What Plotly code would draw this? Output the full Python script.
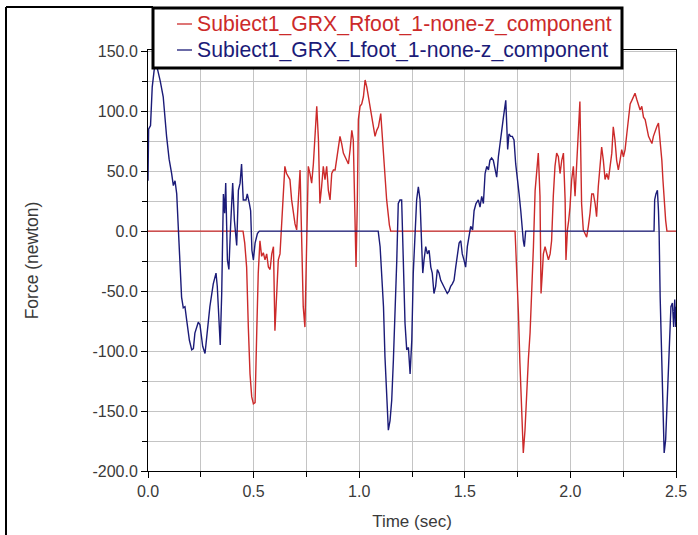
import plotly.graph_objects as go

# ---------------- data ----------------
r_time = [0.000, 0.450, 0.458, 0.467, 0.475, 0.483, 0.491, 0.499, 0.507, 0.512, 0.515, 0.522,
          0.530, 0.538, 0.546, 0.554, 0.562, 0.570, 0.578, 0.586, 0.594, 0.601, 0.609, 0.617,
          0.625, 0.633, 0.641, 0.648, 0.656, 0.664, 0.672, 0.680, 0.688, 0.696, 0.704, 0.712,
          0.720, 0.727, 0.735, 0.743, 0.751, 0.759, 0.767, 0.775, 0.783, 0.791, 0.799, 0.807,
          0.814, 0.822, 0.830, 0.838, 0.846, 0.854, 0.862, 0.870, 0.878, 0.886, 0.893, 0.901,
          0.909, 0.917, 0.925, 0.933, 0.941, 0.949, 0.957, 0.965, 0.972, 0.980, 0.985, 0.991,
          0.996, 1.004, 1.012, 1.020, 1.028, 1.036, 1.043, 1.051, 1.059, 1.067, 1.075, 1.083,
          1.091, 1.102, 1.108, 1.114, 1.122, 1.130, 1.143, 1.149, 1.738, 1.746, 1.754, 1.761,
          1.769, 1.777, 1.785, 1.793, 1.801, 1.809, 1.817, 1.825, 1.833, 1.840, 1.848, 1.856,
          1.861, 1.867, 1.872, 1.880, 1.888, 1.896, 1.904, 1.911, 1.919, 1.927, 1.935, 1.943,
          1.951, 1.959, 1.967, 1.975, 1.979, 1.986, 1.992, 1.998, 2.006, 2.014, 2.022, 2.030,
          2.037, 2.045, 2.053, 2.061, 2.069, 2.077, 2.085, 2.093, 2.101, 2.109, 2.117, 2.124,
          2.132, 2.140, 2.148, 2.156, 2.164, 2.172, 2.180, 2.188, 2.196, 2.203, 2.211, 2.219,
          2.227, 2.235, 2.243, 2.251, 2.259, 2.267, 2.275, 2.283, 2.291, 2.299, 2.306, 2.314,
          2.322, 2.330, 2.338, 2.346, 2.354, 2.362, 2.370, 2.378, 2.386, 2.393, 2.401, 2.409,
          2.417, 2.425, 2.433, 2.438, 2.444, 2.451, 2.457, 2.500]
r_force = [0, 0, -10, -30, -80, -119, -138, -144, -143, -115, -83, -35,
           -8, -21, -18, -24, -19, -30, -32, -19, -13, -83, -52, -24,
           -19, 4, 34, 54, 48, 46, 43, 26, 15, 6, 1, 26,
           51, -2, -63, -80, -8, 54, 48, 40, 56, 81, 104, 76,
           23, 37, 54, 43, 54, 34, 26, 48, 51, 51, 59, 68,
           79, 73, 65, 62, 59, 56, 68, 84, 76, -8, -30, 23,
           93, 104, 106, 112, 126, 120, 112, 104, 95, 87, 79, 84,
           87, 98, 82, 65, 48, 26, 5, 0, 0, -30, -69, -110,
           -146, -185, -166, -132, -107, -85, -52, -13, 34, 48, 65, 29,
           -52, -35, -19, -13, -19, -24, -19, -8, 29, 54, 65, 62,
           48, 59, 65, 26, -24, 1, 9, 20, 43, 54, 29, 56,
           84, 108, 23, 1, -2, -5, 4, 15, 31, 31, 23, 12,
           37, 54, 70, 59, 43, 48, 43, 54, 65, 87, 76, 59,
           51, 59, 68, 62, 68, 81, 93, 106, 109, 112, 115, 110,
           106, 101, 104, 95, 93, 84, 79, 76, 73, 79, 84, 87,
           90, 76, 59, 43, 26, 9, 0, 0]

l_time = [0.000, 0.003, 0.012, 0.020, 0.033, 0.045, 0.058, 0.072, 0.088, 0.100, 0.112, 0.120,
          0.128, 0.136, 0.144, 0.151, 0.159, 0.167, 0.175, 0.183, 0.196, 0.207, 0.215, 0.222,
          0.230, 0.238, 0.246, 0.259, 0.270, 0.278, 0.293, 0.309, 0.322, 0.328, 0.336, 0.342,
          0.349, 0.357, 0.363, 0.368, 0.376, 0.383, 0.391, 0.401, 0.409, 0.420, 0.428, 0.436,
          0.443, 0.451, 0.464, 0.470, 0.480, 0.486, 0.492, 0.499, 0.507, 0.518, 0.527, 1.090,
          1.099, 1.107, 1.115, 1.122, 1.130, 1.138, 1.146, 1.154, 1.162, 1.170, 1.178, 1.185,
          1.193, 1.201, 1.209, 1.217, 1.225, 1.233, 1.241, 1.249, 1.256, 1.264, 1.272, 1.280,
          1.288, 1.296, 1.301, 1.307, 1.315, 1.323, 1.331, 1.339, 1.346, 1.354, 1.362, 1.370,
          1.378, 1.386, 1.394, 1.402, 1.410, 1.417, 1.425, 1.433, 1.441, 1.449, 1.457, 1.465,
          1.473, 1.481, 1.488, 1.496, 1.504, 1.512, 1.520, 1.528, 1.537, 1.544, 1.553, 1.564,
          1.572, 1.580, 1.588, 1.596, 1.604, 1.612, 1.619, 1.627, 1.635, 1.643, 1.651, 1.659,
          1.667, 1.675, 1.683, 1.688, 1.694, 1.699, 1.703, 1.709, 1.717, 1.725, 1.733, 1.741,
          1.749, 1.757, 1.765, 1.771, 1.777, 1.782, 1.788, 2.396, 2.399, 2.405, 2.412, 2.417,
          2.420, 2.425, 2.430, 2.434, 2.439, 2.444, 2.451, 2.457, 2.464, 2.470, 2.476, 2.483,
          2.489, 2.494, 2.499, 2.500]
l_force = [42, 85, 88, 120, 140, 135, 125, 112, 79, 60, 48, 38,
           42, 31, 1, -21, -55, -64, -63, -74, -91, -99, -98, -85,
           -80, -76, -78, -96, -102, -88, -63, -44, -35, -46, -71, -95,
           -52, 31, 15, 40, -24, -32, 4, 40, 9, -12, 34, 40,
           56, 26, 26, 31, 23, 17, -16, -24, -10, -2, 0, 0,
           -13, -35, -63, -105, -141, -166, -158, -141, -107, -69, -24, 23,
           26, 26, -21, -77, -99, -97, -119, -91, -35, 4, 26, 37,
           26, -13, -35, -24, -13, -19, -16, -30, -35, -52, -46, -32,
           -35, -41, -44, -46, -49, -52, -50, -46, -44, -41, -30, -19,
           -10, -8, -19, -24, -30, -13, -5, 4, 1, 17, 23, 26,
           20, 29, 23, 48, 54, 51, 59, 61, 59, 51, 45, 62,
           76, 84, 95, 104, 109, 87, 68, 81, 79, 79, 76, 56,
           45, 31, 17, 0, -8, -13, 0, 0, 26, 31, 34, 17,
           0, -55, -91, -132, -163, -185, -174, -146, -107, -83, -63, -60,
           -80, -57, -80, -63]

series_names = ["Subiect1_GRX_Rfoot_1-none-z_component",
                "Subiect1_GRX_Lfoot_1-none-z_component"]
series_colors = ["#cc2a2a", "#1b1b78"]

x_tickvals = [0.0, 0.5, 1.0, 1.5, 2.0, 2.5]
x_ticktext = ["0.0", "0.5", "1.0", "1.5", "2.0", "2.5"]
y_tickvals = [-200, -150, -100, -50, 0, 50, 100, 150]
y_ticktext = ["-200.0", "-150.0", "-100.0", "-50.0", "0.0", "50.0", "100.0", "150.0"]

# ---------------- geometry (pixels of the 698x535 canvas) ----------------
W, H = 698, 535
L, R, T, B = 148, 22, 50, 64
PW, PH = W - L - R, H - T - B


def px(x):
    return (x - L) / PW


def py(y):
    return (H - B - y) / PH


FONT = "Liberation Sans, Arial, sans-serif"
TXT = "#3a3a3a"
fig = go.Figure()
for t, f, name, col in [(r_time, r_force, series_names[0], series_colors[0]),
                        (l_time, l_force, series_names[1], series_colors[1])]:
    fig.add_trace(go.Scatter(x=t, y=f, mode="lines", line=dict(color=col, width=1.4),
                             name=name, showlegend=False))

axis_common = dict(
    showline=True, linecolor="black", linewidth=1, mirror=True,
    showgrid=True, gridcolor="#c4c4c4", gridwidth=1,
    ticks="outside", ticklen=6, tickcolor="black",
    tickfont=dict(family=FONT, size=16, color=TXT),
    zeroline=False,
)

# manual legend (box + coloured entries)
shapes = [
    dict(type="rect", xref="paper", yref="paper", x0=px(153), x1=px(622), y0=py(68), y1=py(8),
         line=dict(color="black", width=3), fillcolor="white", layer="above"),
    dict(type="line", xref="paper", yref="paper", x0=px(6), x1=px(6), y0=py(7), y1=py(540),
         line=dict(color="black", width=2)),
    dict(type="line", xref="paper", yref="paper", x0=px(6), x1=px(153), y0=py(7), y1=py(7),
         line=dict(color="black", width=2)),
]
annotations = []
for i, (name, col) in enumerate(zip(series_names, series_colors)):
    yc = 24 + 26 * i
    shapes.append(dict(type="line", xref="paper", yref="paper", x0=px(177), x1=px(192),
                       y0=py(yc), y1=py(yc), line=dict(color=col, width=1.3), layer="above"))
    annotations.append(dict(xref="paper", yref="paper", x=px(195), y=py(yc), xanchor="left",
                            yanchor="middle", text=name, showarrow=False,
                            font=dict(family=FONT, size=21.2, color=col)))

fig.update_layout(
    width=W, height=H,
    margin=dict(l=L, r=R, t=T, b=B, autoexpand=False),
    paper_bgcolor="white", plot_bgcolor="white",
    font=dict(family=FONT, color=TXT),
    xaxis=dict(range=[0, 2.5], tickmode="array", tickvals=x_tickvals, ticktext=x_ticktext,
               minor=dict(dtick=0.25, tick0=0, ticks="outside", ticklen=5, tickcolor="black",
                          showgrid=True, gridcolor="#c4c4c4"),
               title=dict(text="Time (sec)", font=dict(family=FONT, size=17, color=TXT),
                          standoff=15),
               automargin=False,
               **axis_common),
    yaxis=dict(range=[-200, 151], tickmode="array", tickvals=y_tickvals, ticktext=y_ticktext,
               minor=dict(dtick=25, tick0=0, ticks="outside", ticklen=5, tickcolor="black",
                          showgrid=True, gridcolor="#c4c4c4"),
               title=dict(text="Force (newton)", font=dict(family=FONT, size=17.5, color=TXT),
                          standoff=49),
               automargin=False,
               **axis_common),
    showlegend=False,
    shapes=shapes,
    annotations=annotations,
)

fig.write_html("out.html",
               config={"displayModeBar": False},
               post_script="document.body.style.margin='0';document.body.style.overflow='hidden';")
